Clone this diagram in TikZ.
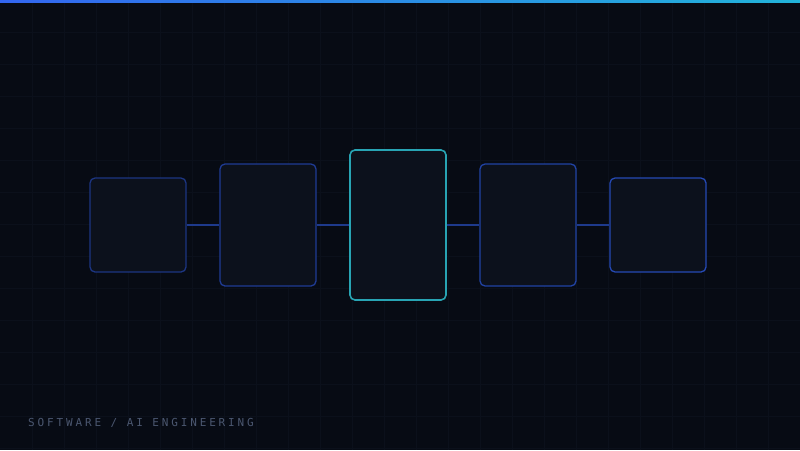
\documentclass[tikz,border=0pt]{standalone}
\usepackage{fontspec}
\setmonofont{DejaVu Sans Mono}[LetterSpace=26]
\usetikzlibrary{positioning}
\definecolor{bg}{HTML}{070B14}
\definecolor{gridc}{HTML}{0B101B}
\definecolor{boxfill}{HTML}{0C111C}
\definecolor{edgeA}{HTML}{1C3582}
\definecolor{edgeB}{HTML}{1F3B94}
\definecolor{edgeC}{HTML}{2143A4}
\definecolor{edgeD}{HTML}{2549B4}
\definecolor{focus}{HTML}{28A4B4}
\definecolor{linkc}{HTML}{1E3A8C}
\definecolor{barL}{HTML}{3366F0}
\definecolor{barR}{HTML}{22B4DA}
\definecolor{caption}{HTML}{4B5770}
\begin{document}
\begin{tikzpicture}[x=1pt,y=-1pt,
  stage/.style={draw,fill=boxfill,rounded corners=5pt,line width=1.3pt,minimum width=96pt,inner sep=0pt},
  link/.style={draw=linkc,line width=1.2pt}]
\useasboundingbox (0,0) rectangle (800,450);
\fill[bg] (0,0) rectangle (800,450);
\foreach \gx in {32,64,...,800} \draw[gridc,line width=0.6pt] (\gx,0) -- (\gx,450);
\foreach \gy in {32,64,...,448} \draw[gridc,line width=0.6pt] (0,\gy) -- (800,\gy);
\shade[left color=barL,right color=barR] (0,0) rectangle (800,2.5);
\node[stage,draw=edgeA,minimum height=94pt] (ingest) at (138,225) {};
\node[stage,draw=edgeB,minimum height=122pt] (parse) at (268,225) {};
\node[stage,draw=focus,line width=1.6pt,minimum height=150pt] (core) at (398,225) {};
\node[stage,draw=edgeC,minimum height=122pt] (route) at (528,225) {};
\node[stage,draw=edgeD,minimum height=94pt] (ship) at (658,225) {};
\draw[link] (ingest) -- (parse);
\draw[link] (parse) -- (core);
\draw[link] (core) -- (route);
\draw[link] (route) -- (ship);
\node[anchor=base west,inner sep=0pt,text=caption,font=\ttfamily\fontsize{11}{13}\selectfont] (tagline) at (28,426) {SOFTWARE / AI ENGINEERING};
\end{tikzpicture}
\end{document}
